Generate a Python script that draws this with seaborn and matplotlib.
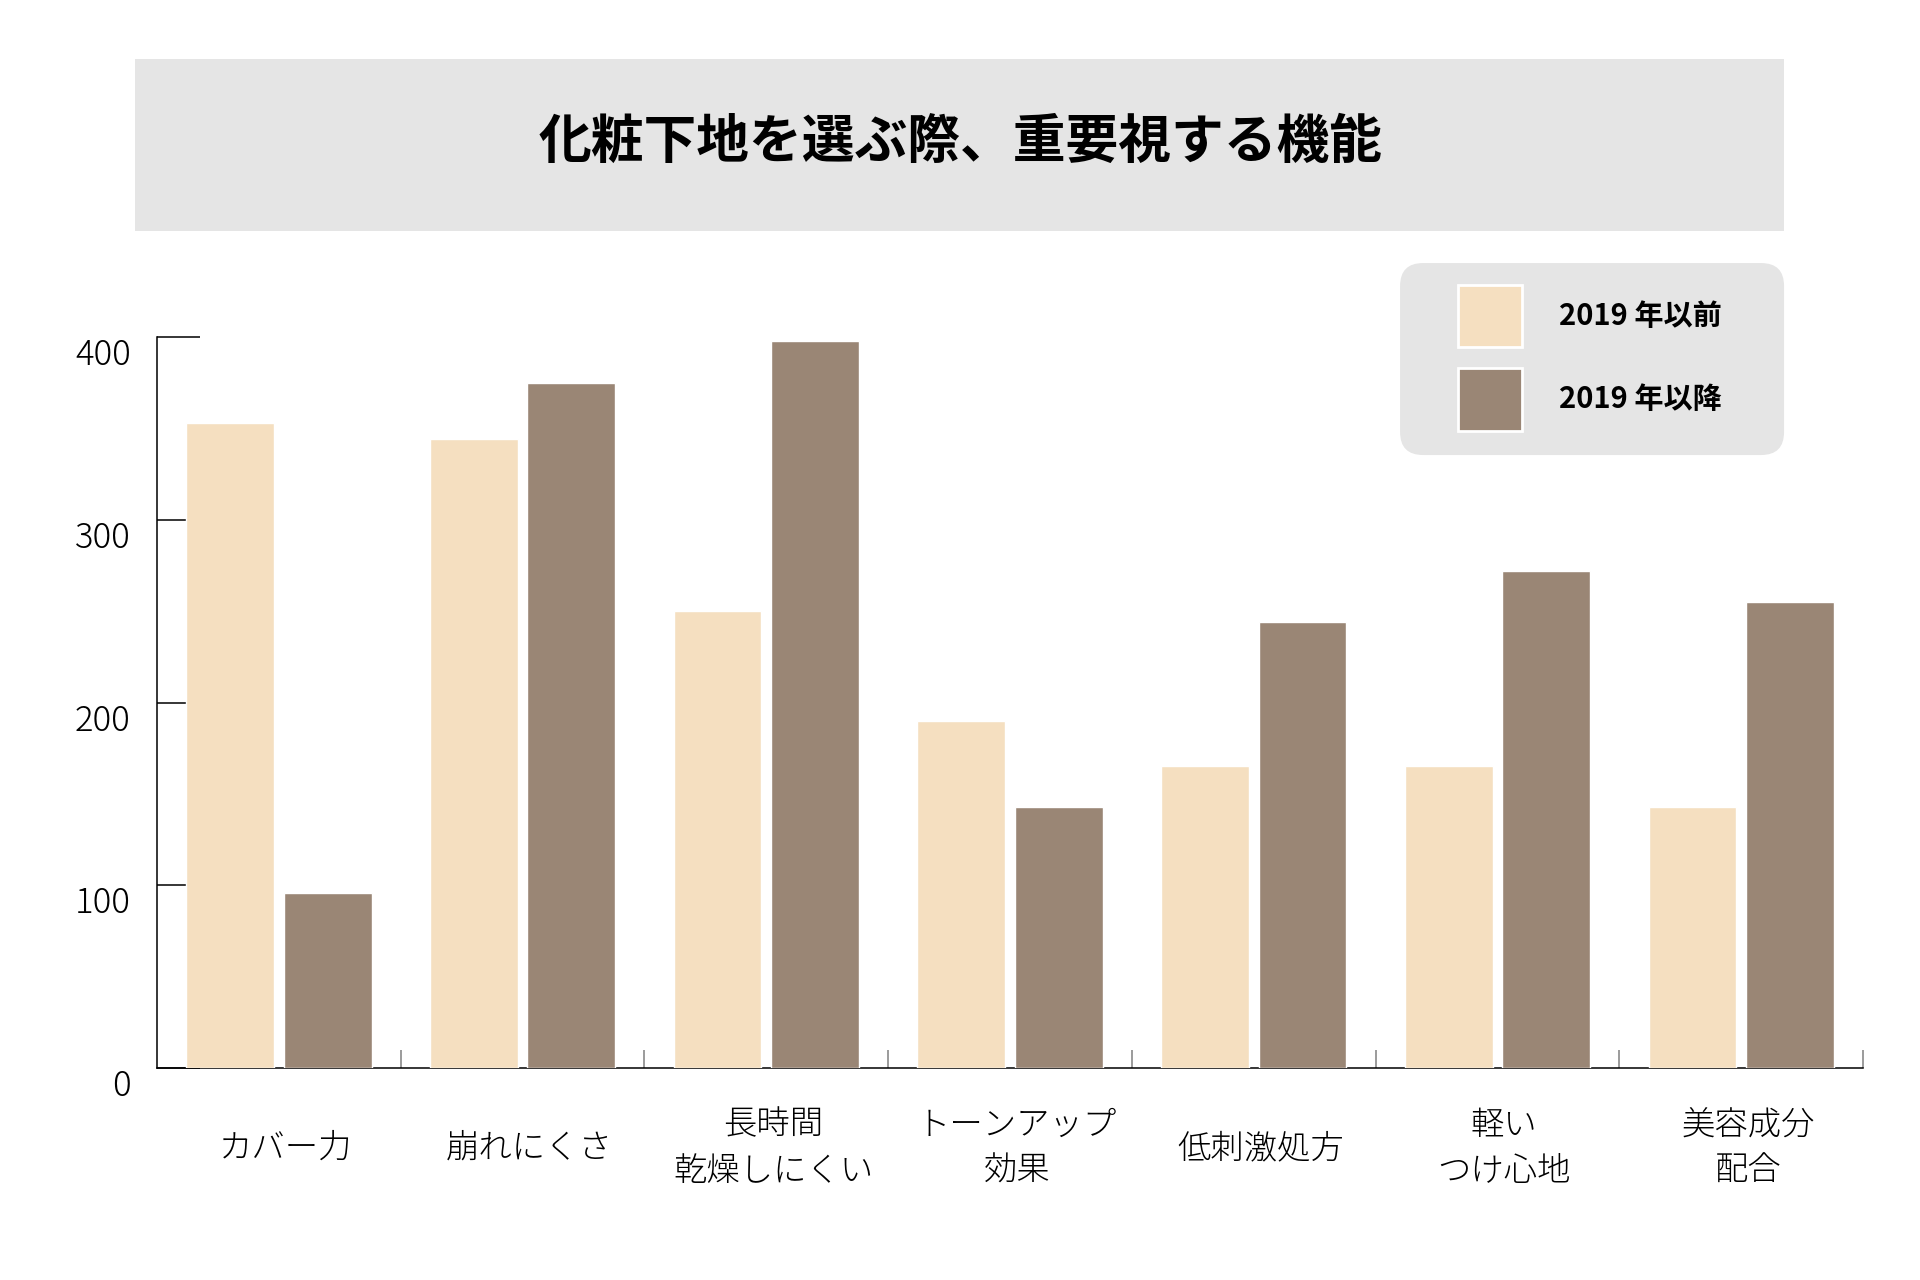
import seaborn as sns
import pandas as pd
import matplotlib.pyplot as plt
from matplotlib.patches import FancyBboxPatch, Rectangle, Patch
from matplotlib.ticker import FixedLocator
from matplotlib.transforms import ScaledTranslation

categories = ['カバー力', '崩れにくさ', '長時間\n乾燥しにくい', 'トーンアップ\n効果',
              '低刺激処方', '軽い\nつけ心地', '美容成分\n配合']
before_2019 = [353, 344, 250, 190, 165, 165, 143]
after_2019 = [96, 375, 398, 143, 244, 272, 255]
series_names = ['2019 年以前', '2019 年以降']
y_ticks = [0, 100, 200, 300, 400]
title = '化粧下地を選ぶ際、重要視する機能'

light = '#F5DFC0'
dark = '#9A8675'
box_grey = '#E5E5E5'

df = pd.DataFrame({
    '項目': categories * 2,
    '件数': before_2019 + after_2019,
    '期間': [series_names[0]] * len(categories) + [series_names[1]] * len(categories),
})

sns.set_theme(style='white')
plt.rcParams['font.family'] = ['Noto Sans CJK JP', 'DejaVu Sans']
plt.rcParams['text.color'] = 'black'
plt.rcParams['xtick.color'] = 'black'
plt.rcParams['ytick.color'] = 'black'

fig = plt.figure(figsize=(19.2, 12.8), dpi=100)
fig.patch.set_facecolor('white')

# title banner
fig.patches.append(Rectangle((0.0703, 0.8195), 0.8589, 0.1344, transform=fig.transFigure,
                             facecolor=box_grey, edgecolor='none', zorder=0))
fig.text(0.5003, 0.889, title, ha='center', va='center', fontsize=38,
         fontweight='bold', color='black')

ax = fig.add_axes([0.0818, 0.1656, 0.8885, 0.5711])
sns.barplot(data=df, x='項目', y='件数', hue='期間', palette=[light, dark],
            saturation=1, width=0.8, gap=0.1, edgecolor='white', linewidth=1,
            zorder=3, ax=ax, legend=False)

ax.set_xlim(-0.5, len(categories) - 0.5)
ax.set_ylim(0, 400)
ax.set_xlabel('')
ax.set_ylabel('')
ax.set_yticks(y_ticks)
ax.set_yticklabels([str(v) for v in y_ticks], fontsize=25, fontweight='light',
                   va='top', color='black')
ax.tick_params(axis='y', direction='in', length=31, width=1.1, color='black', pad=19, left=True)
ax.yaxis.get_major_ticks()[-1].tick1line.set_color('#808080')

ax.tick_params(axis='x', which='major', length=0, pad=58, labelsize=24, labelcolor='black')
shift = ScaledTranslation(5 / 72, 0, fig.dpi_scale_trans)
for lab in ax.get_xticklabels():
    lab.set_va('center')
    lab.set_ha('center')
    lab.set_multialignment('center')
    lab.set_linespacing(1.45)
    lab.set_fontweight('light')
    lab.set_transform(lab.get_transform() + shift)
ax.xaxis.set_minor_locator(FixedLocator([i + 0.5 for i in range(len(categories))]))
ax.tick_params(axis='x', which='minor', direction='in', length=13, width=1.1,
               color='#808080', bottom=True)

for side in ['top', 'right']:
    ax.spines[side].set_visible(False)
for side in ['left', 'bottom']:
    ax.spines[side].set_color('black')
    ax.spines[side].set_linewidth(1.1)

# legend panel
fig.patches.append(FancyBboxPatch((0.7292 + 0.01, 0.6445 + 0.015), 0.2 - 0.02, 0.15 - 0.03,
                                  boxstyle='round,pad=0.01,rounding_size=0.012',
                                  mutation_aspect=1.5,
                                  transform=fig.transFigure, facecolor=box_grey,
                                  edgecolor='none', zorder=4))
handles = [Patch(facecolor=light, edgecolor='white', linewidth=2),
           Patch(facecolor=dark, edgecolor='white', linewidth=2)]
leg = fig.legend(handles, series_names, loc='upper left', bbox_to_anchor=(0.7594, 0.7775),
                 frameon=False, fontsize=21, handlelength=2.2, handleheight=2.93,
                 handletextpad=1.25, labelspacing=0.7, borderpad=0, borderaxespad=0)
leg.set_zorder(5)
for t in leg.get_texts():
    t.set_fontweight('bold')
    t.set_color('black')

fig.savefig('out.png', dpi=100)
